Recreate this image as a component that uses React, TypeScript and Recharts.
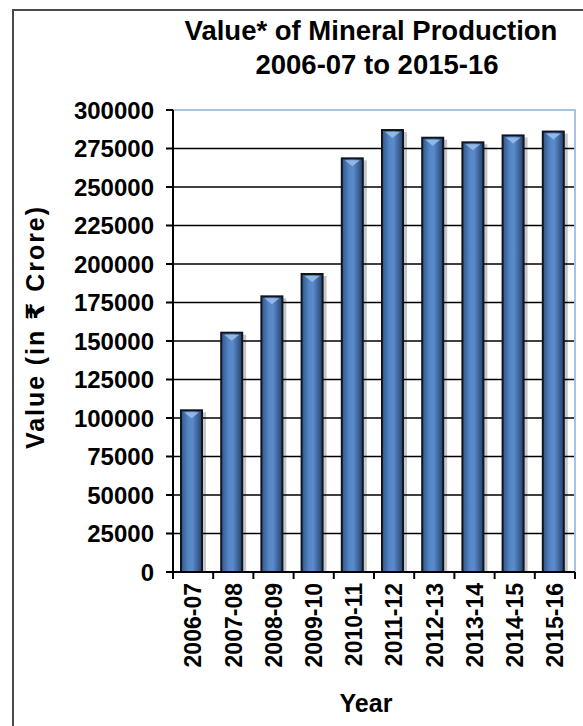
import React from 'react';
import { BarChart, Bar, XAxis, YAxis, CartesianGrid, ReferenceArea } from 'recharts';

const years = ['2006-07', '2007-08', '2008-09', '2009-10', '2010-11', '2011-12', '2012-13', '2013-14', '2014-15', '2015-16'];
const values = [105000, 155400, 179000, 193500, 268600, 287000, 282000, 279000, 283500, 286000];
const yTicks = [0, 25000, 50000, 75000, 100000, 125000, 150000, 175000, 200000, 225000, 250000, 275000, 300000];
const titleLines = ['Value* of Mineral Production', '2006-07 to 2015-16'];
const yLabel = 'Value (in \u20B9 Crore)';
const xLabel = 'Year';

const data = years.map((y, i) => ({ year: y, value: values[i] }));

const FONT = '"Liberation Sans", Arial, "DejaVu Sans", sans-serif';

const BarShape = (props: any) => {
  const { x, y, width, height } = props;
  if (height <= 0) return null;
  const bw = width - 4;
  return (
    <g>
      <rect x={x + bw} y={y + 2} width={4} height={height - 2} fill="#000" opacity={0.22} />
      <rect x={x} y={y} width={bw} height={height} fill="url(#barGrad)" stroke="#10151f" strokeWidth={2} />
      <polygon points={`${x + 3},${y + 2} ${x + bw - 3},${y + 2} ${x + bw / 2},${y + 8}`} fill="#9cc0ec" opacity={0.85} />
    </g>
  );
};

const XTick = (props: any) => {
  const { x, y, payload, index } = props;
  const off = payload && payload.offset ? payload.offset : 20;
  const axisY = y - 11;
  return (
    <g>
      {index === 0 && <line x1={x - off} y1={axisY} x2={x - off} y2={axisY + 7} stroke="#000" strokeWidth={2} />}
      <line x1={x + off} y1={axisY} x2={x + off} y2={axisY + 7} stroke="#000" strokeWidth={2} />
      <text
        x={x}
        y={y}
        dy="0.36em"
        transform={`rotate(-90, ${x}, ${y})`}
        textAnchor="end"
        fontFamily={FONT}
        fontWeight="bold"
        fontSize={23}
        fill="#000"
      >
        {payload.value}
      </text>
    </g>
  );
};

export default function App() {
  return (
    <div style={{ position: 'fixed', left: 0, top: 0, width: 583, height: 726, overflow: 'hidden', background: '#fff' }}>
      <div style={{ position: 'absolute', left: 12, top: 9, width: 700, height: 800, border: '2px solid #4a4a4a' }} />
      <div style={{ position: 'absolute', left: 0, top: 0 }}>
        <BarChart width={583} height={726} data={data} margin={{ top: 110, right: 8, bottom: 54, left: 0 }} barSize={25}>
          <defs>
            <linearGradient id="barGrad" x1="0" y1="0" x2="1" y2="0">
              <stop offset="0%" stopColor="#2f5689" />
              <stop offset="35%" stopColor="#5585c4" />
              <stop offset="55%" stopColor="#5a8bcb" />
              <stop offset="100%" stopColor="#24426b" />
            </linearGradient>
          </defs>
          <ReferenceArea y1={0} y2={300000} fill="none" stroke="#a9c1e3" strokeWidth={2} ifOverflow="visible" />
          <CartesianGrid vertical={false} stroke="#000" strokeWidth={1.6} />
          <XAxis
            dataKey="year"
            interval={0}
            height={100}
            tickLine={false}
            tickSize={7}
            tickMargin={4}
            axisLine={{ stroke: '#000', strokeWidth: 2 }}
            tick={<XTick />}
          />
          <YAxis
            domain={[0, 300000]}
            ticks={yTicks}
            interval={0}
            width={173}
            tickSize={7}
            tickMargin={12}
            axisLine={{ stroke: '#000', strokeWidth: 2 }}
            tickLine={{ stroke: '#000', strokeWidth: 2 }}
            tick={{ fontFamily: FONT, fontWeight: 'bold', fontSize: 24, fill: '#000' }}
          />
          <Bar dataKey="value" isAnimationActive={false} shape={<BarShape />} />
        </BarChart>
      </div>
      <svg width={583} height={726} style={{ position: 'absolute', left: 0, top: 0, pointerEvents: 'none' }}>
        <text x={371} y={40} textAnchor="middle" fontFamily={FONT} fontWeight="bold" fontSize={27.5} fill="#000">
          {titleLines[0]}
        </text>
        <text x={377} y={74} textAnchor="middle" fontFamily={FONT} fontWeight="bold" fontSize={27.5} fill="#000">
          {titleLines[1]}
        </text>
        <text
          x={44}
          y={328}
          transform="rotate(-90, 44, 328)"
          textAnchor="middle"
          fontFamily={FONT}
          fontWeight="bold"
          fontSize={25}
          textLength={242}
          lengthAdjust="spacing"
          fill="#000"
        >
          {yLabel}
        </text>
        <text x={366} y={712} textAnchor="middle" fontFamily={FONT} fontWeight="bold" fontSize={25} fill="#000">
          {xLabel}
        </text>
      </svg>
    </div>
  );
}
